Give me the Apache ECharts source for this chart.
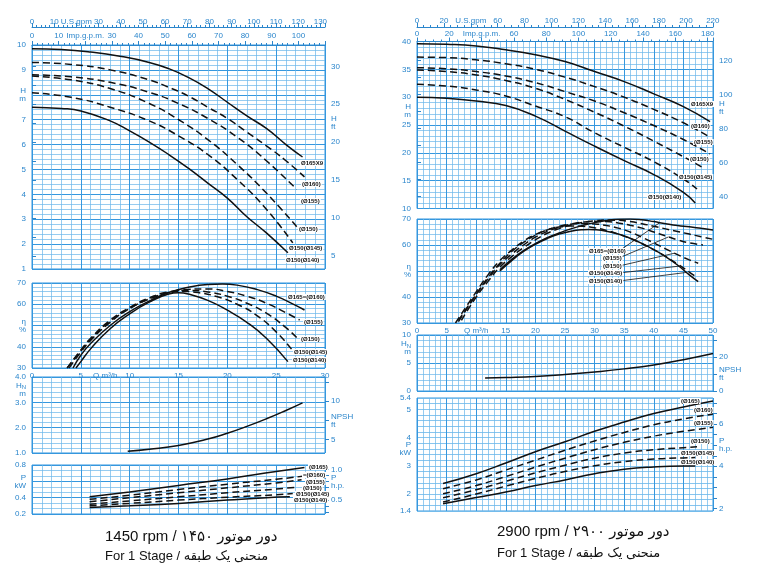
<!DOCTYPE html>
<html><head><meta charset="utf-8">
<script src="https://cdn.jsdelivr.net/npm/echarts@6/dist/echarts.min.js"></script>
<style>html,body{margin:0;padding:0;background:#fff}#c{width:765px;height:569px}</style>
</head><body><div id="c"></div>
<script>
// ---------- DATA (Q in m3/h) ----------
// 1450 rpm : head H (m)
const L_H165 = [[0,9.85],[3,9.82],[6,9.72],[9,9.55],[12,9.3],[14,9.05],[16,8.7],[18,8.25],[20,7.7],[22,7.15],[24,6.65],[26,6.0],[27.7,5.5]];
const L_H160 = [[0,9.3],[4,9.22],[8,9.0],[12,8.6],[14,8.3],[16,7.95],[18,7.5],[20,7.05],[22,6.5],[24,5.95],[26,5.35],[27.9,4.7]];
const L_H155 = [[0,8.8],[4,8.72],[8,8.5],[12,8.1],[15,7.65],[18,7.05],[21,6.3],[24,5.35],[27.1,4.2]];
const L_H150 = [[0,8.75],[4,8.6],[8,8.25],[12,7.65],[15,7.0],[18,6.2],[21,5.2],[24,4.05],[27.1,2.7]];
const L_H145 = [[0,8.08],[4,7.9],[8,7.5],[12,6.95],[15,6.35],[18,5.6],[21,4.6],[24,3.4],[26.7,2.05]];
const L_H140 = [[0,7.5],[3,7.45],[5,7.35],[8,6.95],[10,6.55],[12,6.1],[14,5.6],[16,5.05],[18,4.45],[20,3.85],[22,3.1],[24,2.45],[26.2,1.65]];
// 1450 rpm : efficiency (%)
const L_E165 = [[4.2,30],[5,36],[6,41.5],[8,50],[10,56.5],[12,61.5],[14,65.5],[16,68],[18,69.3],[19.5,69.5],[21,69],[23,67],[25,63.8],[27,59.5],[27.9,57.3]];
const L_E155 = [[3.8,30],[5,37.5],[6,43],[8,51.5],[10,58],[12,62.5],[14,65.5],[16,67],[18,67.2],[20,66],[22,63.8],[24,60.5],[26,56],[27.4,52.6]];
const L_E150 = [[3.6,30],[5,38.5],[6,44],[8,52.5],[10,58.5],[12,63],[14,65.8],[16,66.5],[18,65.8],[20,63.8],[22,60.5],[24,55.8],[26,49],[27.1,44.3]];
const L_E145 = [[3.6,30],[5,38],[6,43.5],[8,52],[10,58],[12,62.5],[14,65.3],[15.5,66],[17,65.5],[19,63.5],[21,60],[23,54.8],[25,47],[26.6,38.7]];
const L_E140 = [[4.5,30],[5,33],[6,39],[8,48.5],[10,55.5],[12,61],[14,64.8],[15,65.4],[16,64.8],[18,61.8],[20,57.2],[22,51.5],[24,44],[26.2,33]];
// 1450 rpm : NPSH (m)
const L_NPSH = [[9.8,1.07],[12,1.15],[15,1.3],[18,1.55],[20,1.78],[22,2.05],[24,2.35],[26,2.68],[27.7,2.98]];
// 1450 rpm : power (kW)
const L_P165 = [[5.9,0.41],[10,0.47],[15,0.55],[20,0.63],[25,0.72],[27.9,0.77]];
const L_P160 = [[5.9,0.38],[10,0.43],[15,0.5],[20,0.565],[25,0.625],[27.9,0.665]];
const L_P155 = [[5.9,0.35],[10,0.40],[15,0.46],[20,0.52],[25,0.58],[27.6,0.62]];
const L_P150 = [[5.9,0.32],[10,0.36],[15,0.41],[20,0.46],[25,0.505],[27.2,0.53]];
const L_P145 = [[5.9,0.30],[10,0.33],[15,0.37],[20,0.405],[25,0.435],[26.7,0.45]];
const L_P140 = [[5.9,0.28],[10,0.30],[15,0.33],[20,0.37],[24,0.40],[26.4,0.41]];

// 2900 rpm : head H (m)
const R_H165 = [[0,39.6],[5,39.5],[10,39.2],[15,38.5],[20,37.6],[25,36.4],[30,34.6],[35,32.8],[40,30.6],[45,28.3],[49.5,25.6]];
const R_H160 = [[0,37.2],[5,37.1],[10,36.7],[15,36.0],[20,35.0],[25,33.6],[30,31.9],[35,30.0],[40,27.8],[45,25.4],[49.5,22.8]];
const R_H155 = [[0,35.3],[5,35.1],[10,34.6],[15,33.8],[20,32.6],[25,31.0],[30,29.3],[35,27.2],[40,24.9],[45,22.4],[49.5,19.8]];
const R_H150 = [[0,34.9],[5,34.6],[10,34.0],[15,33.0],[20,31.6],[25,29.6],[30,27.3],[35,24.8],[40,22.1],[45,19.3],[48.5,17.2]];
const R_H145 = [[0,32.3],[5,32.0],[10,31.3],[15,30.2],[20,28.4],[25,26.5],[30,23.6],[35,21.0],[40,18.4],[45,15.3],[47.3,13.5]];
const R_H140 = [[0,30.0],[5,29.8],[10,29.3],[15,28.5],[20,26.6],[25,23.9],[30,21.2],[35,18.6],[40,16.1],[45,12.9],[47,11.0]];
// 2900 rpm : efficiency (%)
const R_E165 = [[14,50.5],[16,54.5],[18,57.8],[20,60.5],[22,62.8],[24,64.6],[26,66.2],[28,67.5],[30,68.6],[32,69.4],[34,69.9],[36,70],[38,69.7],[40,69.0],[42,68.2],[44,67.5],[46,67],[48,66.4],[50,65.8]];
const R_E160 = [[7.5,31],[10,40],[12,46],[14,51.5],[16,55.5],[18,59],[20,62],[22,64.5],[24,66.3],[26,67.7],[28,68.7],[30,69.3],[32,69.6],[34,69.5],[36,69.0],[38,68.2],[40,67.2],[42,66.2],[44,65.2],[46,64.2],[48,63.2],[50,62.2]];
const R_E155 = [[7,31],[10,41],[12,47],[14,52.5],[16,56.5],[18,60],[20,63],[22,65.2],[24,66.8],[26,68],[28,68.8],[30,69.1],[32,69],[34,68.5],[36,67.6],[38,66.5],[40,65.0],[42,63.5],[44,62.0],[46,60.8],[48.3,60]];
const R_E150 = [[7,30.5],[10,41],[12,47.5],[14,53],[16,57.5],[18,61],[20,63.8],[22,65.8],[24,67.2],[26,68],[28,68.3],[30,68.1],[32,67.5],[34,66.5],[36,65],[38,63],[40,60.8],[42,58.5],[44,56.3],[46,54.3],[47.5,53]];
const R_E145 = [[6.5,30],[10,42],[12,48.5],[14,54],[16,58],[18,61.5],[20,64],[22,65.8],[24,66.9],[26,67.3],[28,67.2],[30,66.6],[32,65.6],[34,64.2],[36,62.5],[38,60.5],[40,58.2],[42,55.6],[44,52.7],[46,49.6],[47,48]];
const R_E140 = [[14,50],[16,54],[18,57.5],[20,60.3],[22,62.5],[24,64.2],[26,65.3],[28,65.9],[29,66],[30,65.9],[32,65.3],[34,64.2],[36,62.6],[38,60.6],[40,58.2],[42,55.5],[44,52.3],[46,48.5],[47.5,45.9]];
// 2900 rpm : NPSH (m)
const R_NPSH = [[11.5,2.3],[15,2.4],[20,2.6],[25,2.95],[30,3.4],[35,3.95],[40,4.65],[45,5.6],[50,6.7]];
// 2900 rpm : power (kW)
const R_P165 = [[4.4,2.37],[10,2.72],[15,3.1],[20,3.5],[25,3.85],[30,4.22],[35,4.55],[40,4.85],[45,5.08],[50,5.29]];
const R_P160 = [[4.4,2.19],[10,2.5],[15,2.85],[20,3.2],[25,3.55],[30,3.88],[35,4.18],[40,4.45],[45,4.66],[50,4.83]];
const R_P155 = [[4.4,2.01],[10,2.3],[15,2.62],[20,2.95],[25,3.27],[30,3.57],[35,3.83],[40,4.05],[45,4.22],[50,4.36]];
const R_P150 = [[4.4,1.87],[10,2.15],[15,2.45],[20,2.75],[25,3.02],[30,3.27],[35,3.45],[40,3.57],[45,3.64],[47.3,3.67]];
const R_P145 = [[4.4,1.72],[10,2.0],[15,2.28],[20,2.55],[25,2.8],[30,3.0],[35,3.15],[40,3.24],[45,3.28],[47,3.29]];
const R_P140 = [[4.4,1.66],[10,1.88],[15,2.07],[20,2.3],[25,2.5],[30,2.72],[35,2.88],[40,2.96],[45,2.99],[47,2.99]];

// tick / label lists
const L_HEAD_LABELS = [1,2,3,4,5,6,7,8,9,10];
const L_FT_LABELS = [5,10,15,20,22.5,25,30];
const L_FT_TICKS = [5,7.5,10,12.5,15,17.5,20,22.5,25,27.5,30];
const L_EFF_LABELS = [30,40,50,60,70];
const L_QX_LABELS = [0,5,7.5,10,15,20,25,30];
const L_NPSH_LABELS = [1,2,3,3.5,4];
const L_NPSHFT_LABELS = [5,7.5,10];
const L_NPSHFT_TICKS = [5,7.5,10,12.5];
const L_P_LABELS = [0.2,0.4,0.6,0.8];
const L_HP_LABELS = [0.5,0.8,1.0];
const L_HP_TICKS = [0.3,0.4,0.5,0.6,0.7,0.8,0.9,1.0];
const R_HEAD_LABELS = [10,15,20,25,27.5,30,35,40];
const R_FT_LABELS = [40,60,80,92,100,120];
const R_FT_TICKS = [40,50,60,70,80,90,100,110,120,130];
const R_EFF_LABELS = [30,40,50,60,70];
const R_QX_LABELS = [0,5,10,15,20,25,30,35,40,45,50];
const R_NPSH_LABELS = [0,5,7.7,10];
const R_NPSHFT_LABELS = [0,10,20];
const R_NPSHFT_TICKS = [0,10,20,30];
const R_P_LABELS = [1.4,2,3,3.6,4,5,5.4];
const R_HP_LABELS = [2,4,5,6];
const R_HP_TICKS = [2,2.5,3,3.5,4,4.5,5,5.5,6,6.5,7];

// unit conversions
const USGPM = 4.40287, IMPGPM = 3.66615, FT = 3.28084, HP = 1/0.7457;

// ---------- STYLE ----------
const BLUE = '#2b86cc', MAJ = '#3597de', MIN = '#6ab6ea';
const FONT = '"Liberation Sans","DejaVu Sans",sans-serif';

const grids = [
  {left:32, top:45, width:293, height:224},
  {left:32, top:283, width:293, height:85},
  {left:32, top:377, width:293, height:76},
  {left:32, top:465, width:293, height:49},
  {left:417, top:41.5, width:296, height:167},
  {left:417, top:219, width:296, height:104},
  {left:417, top:335, width:296, height:56},
  {left:417, top:398, width:296, height:113}
].map(g => Object.assign({show:true, borderColor:MAJ, borderWidth:1, backgroundColor:'#fff'}, g));

const rich = {h:{fontSize:8, color:BLUE}, n:{fontSize:6, color:BLUE, padding:[4,0,0,0]}};

function xQ(gi, max, labels, fmt) {
  return {type:'value', gridIndex:gi, min:0, max:max, interval:5,
    axisLine:{show:false}, axisTick:{show:false},
    axisLabel: labels ? {show:true, customValues:labels, formatter:fmt, color:BLUE, fontSize:8, margin:4} : {show:false},
    splitLine:{show:true, lineStyle:{color:MAJ, width:1}},
    minorTick:{show:false, splitNumber:5},
    minorSplitLine:{show:true, lineStyle:{color:MIN, width:0.7}}};
}
function yL(gi, min, max, interval, minor, labels, fmt) {
  return {type:'value', gridIndex:gi, min:min, max:max, interval:interval, position:'left',
    axisLine:{show:false}, axisTick:{show:false},
    axisLabel:{customValues:labels, formatter:fmt, color:BLUE, fontSize:8, margin:6, lineHeight:8, rich:rich},
    splitLine:{show:true, lineStyle:{color:minor > 1 ? MAJ : MIN, width:minor > 1 ? 1 : 0.8}},
    minorTick:{show:false, splitNumber:minor},
    minorSplitLine:{show: minor > 1, lineStyle:{color:MIN, width:0.7}}};
}
function yR(gi, min, max, ticks, labels, fmt) {
  return {type:'value', gridIndex:gi, min:min, max:max, position:'right',
    axisLine:{show:false},
    axisTick:{show:true, customValues:ticks, length:4, lineStyle:{color:BLUE}},
    axisLabel:{customValues:labels, formatter:fmt, color:BLUE, fontSize:8, margin:6, lineHeight:8},
    splitLine:{show:false}};
}
function xTop(gi, max, interval, minor, offset, margin, fmt) {
  return {type:'value', gridIndex:gi, position:'top', offset:offset, min:0, max:max, interval:interval,
    axisLine:{show:true, lineStyle:{color:BLUE, width:1}},
    axisTick:{show:true, length:4, lineStyle:{color:BLUE}},
    minorTick:{show:true, splitNumber:minor, length:2, lineStyle:{color:BLUE}},
    axisLabel:{formatter:fmt, color:BLUE, fontSize:8, margin:margin, showMaxLabel:false},
    splitLine:{show:false}};
}
const num = v => String(v);

const xAxes = [
  xQ(0,30), xQ(1,30,L_QX_LABELS, v => v===7.5 ? 'Q m³/h' : num(v)), xQ(2,30), xQ(3,30),
  xQ(4,50), xQ(5,50,R_QX_LABELS, v => v===10 ? 'Q m³/h' : num(v)), xQ(6,50), xQ(7,50),
  xTop(0, 30*USGPM, 10, 5, 18, 1, v => v===20 ? 'U.S.gpm' : num(v)),
  xTop(0, 30*IMPGPM, 10, 5, 0, 5, v => v===20 ? 'Imp.g.p.m.' : num(v)),
  xTop(4, 50*USGPM, 20, 4, 14.5, 2, v => v===40 ? 'U.S.gpm' : num(v)),
  xTop(4, 50*IMPGPM, 20, 4, 0, 4, v => v===40 ? 'Imp.g.p.m.' : num(v))
];
const yAxes = [
  yL(0,1,10,1,5,L_HEAD_LABELS, v => v===8 ? 'H\nm' : num(v)),
  yL(1,30,70,10,5,L_EFF_LABELS, v => v===50 ? 'η\n%' : num(v)),
  yL(2,1,4,1,5,L_NPSH_LABELS, v => v===3.5 ? '{h|H}{n|N}\n{h|m}' : v.toFixed(1)),
  yL(3,0.2,0.8,0.2,3,L_P_LABELS, v => v===0.6 ? 'P\nkW' : num(v)),
  yL(4,10,40,5,5,R_HEAD_LABELS, v => v===27.5 ? 'H\nm' : num(v)),
  yL(5,30,70,10,5,R_EFF_LABELS, v => v===50 ? 'η\n%' : num(v)),
  yL(6,0,10,5,5,R_NPSH_LABELS, v => v===7.7 ? '{h|H}{n|N}\n{h|m}' : num(v)),
  yL(7,1.4,5.4,0.2,1,R_P_LABELS, v => v===3.6 ? 'P\nkW' : num(v)),
  yR(0, 1*FT, 10*FT, L_FT_TICKS, L_FT_LABELS, v => v===22.5 ? 'H\nft' : num(v)),
  yR(2, 1*FT, 4*FT, L_NPSHFT_TICKS, L_NPSHFT_LABELS, v => v===7.5 ? 'NPSH\nft' : num(v)),
  yR(3, 0.2*HP, 0.8*HP, L_HP_TICKS, L_HP_LABELS, v => v===0.8 ? 'P\nh.p.' : v.toFixed(1)),
  yR(4, 10*FT, 40*FT, R_FT_TICKS, R_FT_LABELS, v => v===92 ? 'H\nft' : num(v)),
  yR(6, 0, 10*FT, R_NPSHFT_TICKS, R_NPSHFT_LABELS, v => v===10 ? 'NPSH\nft' : num(v)),
  yR(7, 1.4*HP, 5.4*HP, R_HP_TICKS, R_HP_LABELS, v => v===5 ? 'P\nh.p.' : num(v))
];

function ln(data, ax, dashed) {
  return {type:'line', xAxisIndex:ax, yAxisIndex:ax, data:data, smooth:0.5,
    symbol:'none', silent:true, z:5,
    lineStyle:{color:'#111', width:1.5, type: dashed ? [7,4] : 'solid'}};
}
const series = [
  ln(L_H165,0,false), ln(L_H160,0,true), ln(L_H155,0,true), ln(L_H150,0,true), ln(L_H145,0,true), ln(L_H140,0,false),
  ln(L_E165,1,false), ln(L_E155,1,true), ln(L_E150,1,true), ln(L_E145,1,true), ln(L_E140,1,false),
  ln(L_NPSH,2,false),
  ln(L_P165,3,false), ln(L_P160,3,true), ln(L_P155,3,true), ln(L_P150,3,true), ln(L_P145,3,true), ln(L_P140,3,false),
  ln(R_H165,4,false), ln(R_H160,4,true), ln(R_H155,4,true), ln(R_H150,4,true), ln(R_H145,4,true), ln(R_H140,4,false),
  ln(R_E165,5,false), ln(R_E160,5,true), ln(R_E155,5,true), ln(R_E150,5,true), ln(R_E145,5,true), ln(R_E140,5,false),
  ln(R_NPSH,6,false),
  ln(R_P165,7,false), ln(R_P160,7,true), ln(R_P155,7,true), ln(R_P150,7,true), ln(R_P145,7,true), ln(R_P140,7,false)
];

const chart = echarts.init(document.getElementById('c'), null, {renderer:'canvas'});
chart.setOption({
  animation:false, backgroundColor:'#fff',
  textStyle:{fontFamily:FONT},
  grid:grids, xAxis:xAxes, yAxis:yAxes, series:series
});

// ---------- curve labels & titles ----------
const CURVE_LABELS = [
  ['Ø165X9',300,163],['(Ø160)',301,184],['(Ø155)',300,201],['(Ø150)',298,229],['Ø150(Ø145)',288,248],['Ø150(Ø140)',285,260],
  ['Ø165=(Ø160)',287,297],['(Ø155)',303,322],['(Ø150)',300,339],['Ø150(Ø145)',293,352],['Ø150(Ø140)',292,360],
  ['(Ø165)',308,467],['=(Ø160)',302,475],['(Ø155)',305,482],['(Ø150)',302,488],['Ø150(Ø145)',295,494],['Ø150(Ø140)',293,500],
  ['Ø165X9',690,104],['(Ø160)',690,126],['(Ø155)',693,142],['(Ø150)',689,159],['Ø150(Ø145)',678,177],['Ø150(Ø140)',647,197],
  ['Ø165=(Ø160)',588,251],['(Ø155)',602,258],['(Ø150)',602,266],['Ø150(Ø145)',588,273],['Ø150(Ø140)',588,281],
  ['(Ø165)',680,401],['(Ø160)',693,410],['(Ø155)',693,423],['(Ø150)',690,441],['Ø150(Ø145)',680,453],['Ø150(Ø140)',680,462]
];
const graphics = CURVE_LABELS.map(([t,x,y]) => ({
  type:'text', x:x, y:y, z:100, silent:true,
  style:{text:t, fill:'#111', font:'bold 6px ' + FONT, verticalAlign:'middle', align:'left',
         backgroundColor:'#fff', padding:[0,1]}
}));
// leader lines from right-efficiency labels to points on their curves
function valAt(d, q) {
  for (let i = 1; i < d.length; i++) {
    if (q <= d[i][0]) { const a = d[i-1], b = d[i]; return a[1] + (b[1]-a[1])*(q-a[0])/(b[0]-a[0]); }
  }
  return d[d.length-1][1];
}
const LEADERS = [[R_E165,41,251],[R_E155,42.5,258],[R_E150,43.5,266],[R_E145,44.5,273],[R_E140,45.5,281]];
LEADERS.forEach(([d,q,ly]) => {
  const px = chart.convertToPixel({xAxisIndex:5, yAxisIndex:5}, [q, valAt(d,q)]);
  if (px) graphics.push({type:'polyline', z:90, silent:true,
    shape:{points:[[619,ly],[px[0],px[1]]]}, style:{stroke:'#111', lineWidth:0.8, fill:null}});
});
const TITLES = [
  ['1450 rpm / ۱۴۵۰\u200E دور موتور',105,537,15],
  ['For 1 Stage / منحنی یک طبقه',105,556,13],
  ['2900 rpm / ۲۹۰۰\u200E دور موتور',497,532,15],
  ['For 1 Stage / منحنی یک طبقه',497,553,13]
];
TITLES.forEach(([t,x,y,s]) => graphics.push({type:'text', x:x, y:y, z:100, silent:true,
  style:{text:t, fill:'#111', font:s+'px ' + FONT, verticalAlign:'middle', align:'left'}}));
chart.setOption({graphic:graphics});
</script>
</body></html>
